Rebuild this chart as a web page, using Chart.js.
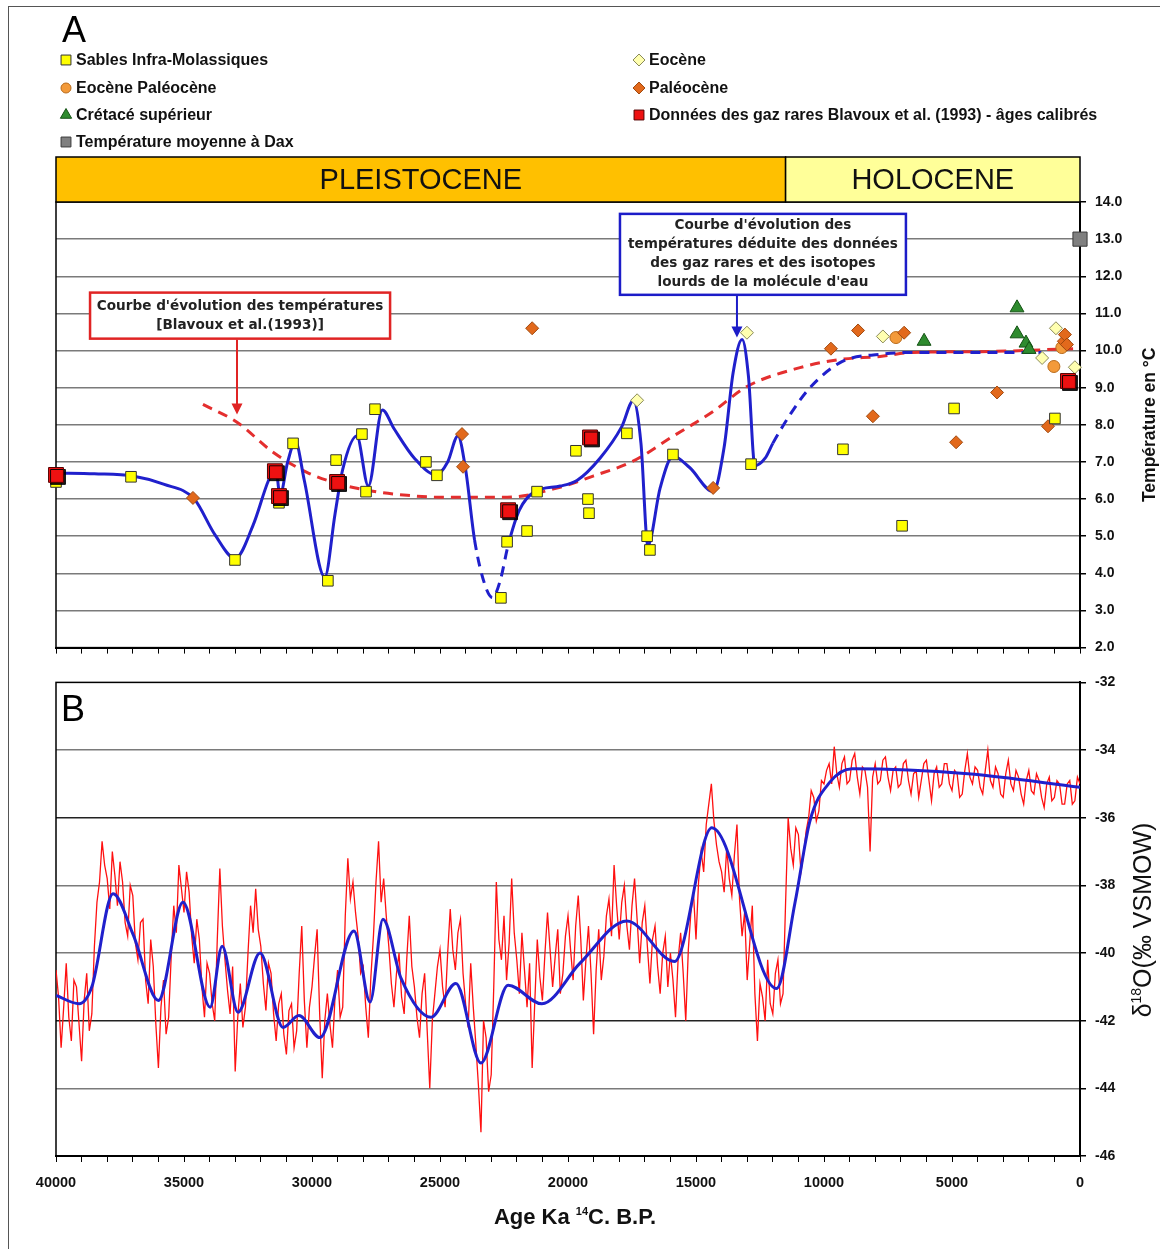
<!DOCTYPE html>
<html>
<head>
<meta charset="utf-8">
<script src="https://cdn.jsdelivr.net/npm/chart.js@4.4.1/dist/chart.umd.min.js"></script>
<style>
html, body { margin: 0; padding: 0; background: #fff; }
#wrap { position: relative; width: 1160px; height: 1249px; overflow: hidden; }
#frame { position: absolute; left: 8px; top: 6px; width: 1160px; height: 1249px; border-left: 1px solid #555; border-top: 1px solid #555; }
canvas { position: absolute; left: 0; }
#chartA { top: 0; width: 1160px; height: 665px; }
#chartB { top: 665px; width: 1160px; height: 584px; }
</style>
</head>
<body>
<div id="wrap">
  <div id="frame"></div>
  <canvas id="chartA" width="1160" height="665"></canvas>
  <canvas id="chartB" width="1160" height="584"></canvas>
</div>
<script>
const SANS = "'Liberation Sans', Arial, sans-serif";
const BOXFONT = "'DejaVu Sans', Verdana, sans-serif";

// ---------- Panel A : temperatures (age in years BP, temperature in degC) ----------
const sablesAge  = [40000, 37070, 33010, 31290, 30740, 29380, 29060, 28050, 27890, 27540, 25550, 25120, 22620, 22380,
                    21600, 21210, 19690, 19220, 19180, 17700, 16910, 16800, 15900, 12850, 9260, 6950, 4920, 980];
const sablesTemp = [6.46, 6.6, 4.36, 5.9, 7.5, 3.8, 7.05, 7.75, 6.2, 8.42, 7.0, 6.64, 3.34, 4.85,
                    5.14, 6.2, 7.3, 6.0, 5.62, 7.77, 5.0, 4.63, 7.2, 6.94, 7.34, 5.28, 8.44, 8.17];

const eoceneAge  = [17300, 13010, 7700, 1480, 940, 200];
const eoceneTemp = [8.66, 10.48, 10.38, 9.8, 10.6, 9.55];

const paleoceneAge  = [34650, 24140, 24100, 21400, 14330, 9730, 8670, 8090, 6870, 4840, 3240, 1250, 630, 590, 510];
const paleoceneTemp = [6.03, 7.75, 6.87, 10.6, 6.3, 10.05, 10.54, 8.23, 10.48, 7.53, 8.87, 7.96, 10.25, 10.43, 10.16];

const eocPalAge  = [7190, 1020, 710];
const eocPalTemp = [10.35, 9.57, 10.08];

const cretaceAge  = [6090, 2460, 2460, 2110, 1990];
const cretaceTemp = [10.25, 11.15, 10.45, 10.2, 10.03];

const gazAge  = [40000, 31450, 31290, 29020, 22340, 19140, 470];
const gazTemp = [6.65, 6.75, 6.08, 6.46, 5.7, 7.66, 9.18];

const daxAge  = [0];
const daxTemp = [13.0];

// temperature curve deduced from noble gases and heavy isotopes
const curveAge  = [40000, 38500, 37000, 35800, 34600, 33800, 33000, 32300, 31700, 31420, 31250, 30950, 30650, 30300,
                   29500, 29100, 28800, 28250, 27800, 27250, 26800, 26000, 25150, 24700, 24300, 24000, 23650, 23250,
                   22950, 22650, 22340, 21900, 21300, 20300, 19650, 18750, 17900, 17450, 17150, 16880, 16400, 15900,
                   15250, 14330, 13900, 13550, 13200, 12950, 12700, 12300, 12000, 11300, 10550, 9300, 7800, 6500, 1500];
const curveTemp = [6.7, 6.68, 6.62, 6.4, 6.0, 5.05, 4.4, 5.3, 6.5, 6.85, 6.1, 7.0, 7.55, 6.5,
                   3.9, 5.6, 6.8, 7.7, 6.35, 8.4, 7.9, 7.1, 6.65, 7.0, 7.7, 6.8, 4.9, 3.7,
                   3.35, 3.8, 4.75, 5.7, 6.2, 6.35, 6.5, 7.1, 7.95, 8.65, 7.5, 4.75, 6.3, 7.15,
                   6.85, 6.2, 7.4, 9.4, 10.3, 9.3, 6.9, 7.1, 7.5, 8.3, 9.0, 9.7, 9.9, 9.95, 9.95];
// parts of the curve that are only inferred (drawn dashed)
const curveDashedRanges = [[23650, 22340], [12000, 0]];

// Blavoux et al. (1993) curve
const blavouxAge  = [34260, 32930, 31520, 30200, 28910, 27620, 26290, 25000, 22380, 20310, 19020, 17460, 15900,
                     14330, 13010, 10940, 9380, 7810, 6520, 3910, 270];
const blavouxTemp = [8.55, 8.07, 7.26, 6.72, 6.4, 6.21, 6.1, 6.05, 6.05, 6.32, 6.62, 7.02, 7.69,
                     8.36, 9.03, 9.54, 9.76, 9.84, 9.95, 9.97, 10.05];

const epochNames  = ['PLEISTOCENE', 'HOLOCENE'];
const epochBounds = [40000, 11500, 0];

const tempTicks = [2, 14];

// ---------- Panel B : delta 18O, one value every 100 years from 40000 to 0 ----------
const redStartAge = 40000;
const redStep = 100;
const redDelta = [
  -40.5, -41.3, -42.8, -41.6, -40.3, -41.9, -42.6, -40.8, -41.0, -42.1, -43.2, -41.4, -40.6, -42.3, -41.8, -39.8, -38.5, -37.9, -36.7, -37.4,
  -37.8, -38.7, -37.0, -37.7, -38.6, -37.3, -37.9, -39.1, -39.5, -38.0, -38.3, -39.7, -40.2, -39.1, -39.0, -40.8, -41.5, -39.6, -40.4, -42.1,
  -43.4, -41.6, -40.8, -42.4, -41.9, -40.1, -38.6, -39.4, -37.4, -38.1, -38.8, -37.6, -38.2, -39.5, -40.3, -39.0, -39.6, -41.0, -41.9, -40.3,
  -40.6, -41.5, -42.0, -39.6, -37.5, -39.2, -40.2, -41.1, -41.8, -40.4, -43.5, -41.9, -40.9, -42.2, -41.6, -40.0, -38.6, -39.4, -38.1, -39.3,
  -39.8, -40.9, -41.7, -40.3, -40.6, -41.8, -42.6, -41.5, -41.2, -42.4, -43.0, -41.7, -41.5, -42.8, -42.3, -40.6, -39.2, -41.4, -42.8, -41.6,
  -41.0, -40.1, -39.3, -41.8, -43.7, -42.0, -41.2, -42.1, -42.8, -41.3, -40.5, -41.9, -41.6, -38.9, -37.2, -38.4, -37.9, -38.8, -39.5, -40.6,
  -40.4, -41.6, -42.5, -40.7, -39.5, -37.9, -36.7, -38.5, -37.8, -38.9, -39.8, -40.9, -41.6, -40.6, -40.0, -41.3, -41.8, -40.2, -38.9, -40.4,
  -41.0, -41.9, -42.5, -41.2, -40.6, -42.3, -44.0, -42.0, -41.2, -40.4, -39.9, -41.0, -41.6, -40.0, -38.7, -39.9, -40.5, -39.4, -39.0, -40.6,
  -41.5, -42.2, -40.3, -41.6, -42.7, -43.9, -45.3, -42.0, -42.5, -44.1, -43.6, -41.0, -37.9, -39.6, -40.2, -38.9, -40.8, -39.7, -37.8, -39.4,
  -40.2, -41.2, -39.4, -40.5, -41.6, -40.3, -43.4, -41.5, -39.6, -40.7, -41.4, -40.0, -38.8, -39.9, -41.0, -40.1, -39.3, -41.2, -40.6, -39.5,
  -38.9, -39.9, -40.8, -39.2, -38.3, -39.6, -41.4, -40.2, -39.2, -40.6, -42.4, -40.5, -39.3, -40.8, -40.1, -38.9, -38.4, -39.5, -37.4, -38.6,
  -39.6, -38.5, -38.0, -39.2, -39.9, -38.6, -37.8, -39.0, -40.3, -39.1, -38.6, -39.8, -40.9, -39.6, -39.2, -40.4, -41.2, -40.0, -39.5, -41.0,
  -40.0, -40.8, -41.9, -40.2, -39.4, -40.6, -42.0, -39.9, -38.8, -38.2, -39.6, -37.9, -37.0, -37.6, -36.2, -35.6, -35.0, -36.1, -36.8, -37.3,
  -37.6, -38.2, -36.9, -37.8, -38.3, -37.1, -36.2, -38.4, -39.5, -38.8, -40.8, -39.7, -38.6, -41.2, -42.6, -40.9, -41.3, -42.0, -40.2, -41.5,
  -41.8, -40.6, -40.2, -41.5, -41.2, -38.5, -36.0, -36.9, -37.4, -36.3, -36.5, -37.6, -37.1, -36.4, -36.0, -35.2, -35.4, -36.1, -35.8, -34.9,
  -35.0, -34.6, -34.4, -35.0, -33.9, -34.7, -35.1, -34.4, -34.2, -35.0, -34.9, -34.3, -34.1, -34.8, -35.3, -34.5, -34.6, -35.1, -37.0, -34.8,
  -34.4, -35.0, -34.9, -34.3, -34.2, -34.8, -35.2, -34.6, -34.5, -35.1, -35.0, -34.4, -34.3, -34.9, -35.3, -34.7, -34.6, -35.4, -34.9, -34.4,
  -34.3, -34.9, -35.5, -34.7, -34.5, -35.1, -35.0, -34.4, -34.4, -35.0, -35.2, -34.6, -34.7, -35.4, -35.3, -34.6, -34.1, -34.8, -35.0, -34.5,
  -34.6, -35.1, -35.3, -34.6, -34.0, -34.9, -35.1, -34.5, -34.7, -35.3, -35.4, -34.7, -34.3, -35.0, -35.2, -34.6, -34.8, -35.3, -35.6, -34.9,
  -34.6, -35.2, -35.3, -34.7, -34.9, -35.4, -35.7, -35.0, -34.8, -35.5, -35.4, -34.9, -35.0, -35.6, -35.6, -35.0, -34.9, -35.6, -35.5, -34.8,
  -35.0
];

const smoothAge   = [40000, 39100, 38600, 37770, 36990, 36000, 35040, 33980, 33510, 32890, 32030, 31130, 30510, 29690,
                     28360, 27730, 27230, 26520, 25350, 24380, 23400, 22340, 21020, 19530, 17700, 15840, 14380, 11850,
                     11130, 10550, 9770, 8900, 4380, 0];
const smoothDelta = [-41.25, -41.5, -41.0, -38.25, -39.45, -41.4, -38.5, -41.6, -39.8, -41.75, -40.0, -42.2, -41.85, -42.5,
                     -39.35, -41.45, -39.0, -40.75, -41.9, -40.9, -43.25, -40.95, -41.5, -40.3, -39.05, -40.25, -36.3, -41.05,
                     -38.5, -36.1, -34.95, -34.55, -34.7, -35.1];

const deltaTicks = [-46, -32];

// ---------- helpers ----------
function pts(ages, vals) {
  return ages.map((a, i) => ({ x: a, y: vals[i] }));
}

function inDashed(a, b) {
  return curveDashedRanges.some(r => a <= r[0] && a >= r[1] && b <= r[0] && b >= r[1]);
}

// draws text made of parts (normal + superscript) centred on cx, baseline at by
function drawParts(ctx, parts, cx, by) {
  let total = 0;
  parts.forEach(p => { ctx.font = p.font; total += ctx.measureText(p.t).width; });
  let x = cx - total / 2;
  ctx.textAlign = 'left';
  ctx.textBaseline = 'alphabetic';
  parts.forEach(p => {
    ctx.font = p.font;
    ctx.fillText(p.t, x, by + (p.dy || 0));
    x += ctx.measureText(p.t).width;
  });
}

function arrowDown(ctx, x, y0, y1, color) {
  ctx.save();
  ctx.strokeStyle = color;
  ctx.fillStyle = color;
  ctx.lineWidth = 2;
  ctx.beginPath();
  ctx.moveTo(x, y0);
  ctx.lineTo(x, y1 - 9);
  ctx.stroke();
  ctx.beginPath();
  ctx.moveTo(x - 5.5, y1 - 11);
  ctx.lineTo(x + 5.5, y1 - 11);
  ctx.lineTo(x, y1);
  ctx.closePath();
  ctx.fill();
  ctx.restore();
}

function noteBox(chart, ageL, ageR, tTop, tBot, lines, color) {
  const ctx = chart.ctx, xs = chart.scales.x, ys = chart.scales.y;
  const x1 = xs.getPixelForValue(ageL), x2 = xs.getPixelForValue(ageR);
  const y1 = ys.getPixelForValue(tTop), y2 = ys.getPixelForValue(tBot);
  ctx.save();
  ctx.fillStyle = '#fff';
  ctx.fillRect(x1, y1, x2 - x1, y2 - y1);
  ctx.strokeStyle = color;
  ctx.lineWidth = 2.5;
  ctx.strokeRect(x1, y1, x2 - x1, y2 - y1);
  ctx.fillStyle = '#222';
  ctx.font = 'bold 13.6px ' + BOXFONT;
  ctx.textAlign = 'center';
  ctx.textBaseline = 'middle';
  const lh = 19;
  const y0 = (y1 + y2) / 2 - (lines.length - 1) * lh / 2;
  lines.forEach((l, i) => ctx.fillText(l, (x1 + x2) / 2, y0 + i * lh));
  ctx.restore();
}

const legendSlots = [
  ['Sables Infra-Molassiques', 0, 0],
  ['Eocène Paléocène', 0, 1],
  ['Crétacé supérieur', 0, 2],
  ['Température moyenne à Dax', 0, 3],
  ['Eocène', 1, 0],
  ['Paléocène', 1, 1],
  ['Données des gaz rares Blavoux et al. (1993) - âges calibrés', 1, 2]
];

// ---------- Panel A plugin ----------
const panelA = {
  id: 'panelA',
  beforeDatasetDraw(chart, args) {
    if (chart.data.datasets[args.index].shadow) {
      const c = chart.ctx;
      c.save();
      c.shadowColor = 'rgba(0,0,0,0.9)';
      c.shadowOffsetX = 2;
      c.shadowOffsetY = 2;
      c.shadowBlur = 0;
    }
  },
  afterDatasetDraw(chart, args) {
    if (chart.data.datasets[args.index].shadow) chart.ctx.restore();
  },
  beforeDatasetsDraw(chart) {
    const { ctx, chartArea: a } = chart;
    ctx.save();
    ctx.strokeStyle = '#000';
    ctx.lineWidth = 1.5;
    ctx.strokeRect(a.left, a.top, a.right - a.left, a.bottom - a.top);
    ctx.restore();
  },
  afterDatasetsDraw(chart) {
    const ctx = chart.ctx, xs = chart.scales.x, ys = chart.scales.y;
    noteBox(chart, 38670, 26950, 11.56, 10.32,
      ["Courbe d'évolution des températures", '[Blavoux et al.(1993)]'], '#e02424');
    arrowDown(ctx, xs.getPixelForValue(32930), ys.getPixelForValue(10.32) + 1, ys.getPixelForValue(8.28), '#e02424');
    noteBox(chart, 17970, 6800, 13.68, 11.5,
      ["Courbe d'évolution des", 'températures déduite des données', 'des gaz rares et des isotopes', "lourds de la molécule d'eau"], '#1c1cc8');
    arrowDown(ctx, xs.getPixelForValue(13400), ys.getPixelForValue(11.5) + 1, ys.getPixelForValue(10.35), '#1c1cc8');
  },
  afterDraw(chart) {
    const { ctx, chartArea: a } = chart;
    const xs = chart.scales.x;
    ctx.save();
    // panel letter
    ctx.fillStyle = '#000';
    ctx.font = '36px ' + SANS;
    ctx.textAlign = 'left';
    ctx.textBaseline = 'alphabetic';
    ctx.fillText('A', 62, 42);

    // legend
    ctx.font = 'bold 16px ' + SANS;
    ctx.textBaseline = 'middle';
    const colX = [66, 639], rowY = [60, 88, 115, 142];
    legendSlots.forEach(([label, col, row]) => {
      const ds = chart.data.datasets.find(d => d.label === label);
      if (!ds) return;
      const x = colX[col], y = rowY[row];
      ctx.fillStyle = ds.backgroundColor;
      ctx.strokeStyle = ds.borderColor;
      ctx.lineWidth = 1;
      Chart.helpers.drawPoint(ctx, { pointStyle: ds.pointStyle, radius: ds.legendRadius, rotation: 0, borderWidth: 1 }, x, y);
      ctx.fillStyle = '#111';
      ctx.fillText(label, x + 10, y + 1);
    });

    // epoch band above the plot
    const bandTop = a.top - 45;
    const fills = ['#ffc000', '#ffff99'];
    for (let i = 0; i < epochNames.length; i++) {
      const x1 = xs.getPixelForValue(epochBounds[i]);
      const x2 = xs.getPixelForValue(epochBounds[i + 1]);
      ctx.fillStyle = fills[i];
      ctx.fillRect(x1, bandTop, x2 - x1, 45);
      ctx.strokeStyle = '#000';
      ctx.lineWidth = 1.5;
      ctx.strokeRect(x1, bandTop, x2 - x1, 45);
      ctx.fillStyle = '#111';
      ctx.font = '29px ' + SANS;
      ctx.textAlign = 'center';
      ctx.textBaseline = 'middle';
      ctx.fillText(epochNames[i], (x1 + x2) / 2, bandTop + 24);
    }

    // right axis title, reading upwards
    ctx.translate(1155, (a.top + a.bottom) / 2);
    ctx.rotate(-Math.PI / 2);
    ctx.fillStyle = '#111';
    drawParts(ctx, [{ t: 'Température en °C', font: 'bold 17.5px ' + SANS }], 0, 0);
    ctx.restore();
  }
};

// ---------- Panel B plugin ----------
const panelB = {
  id: 'panelB',
  beforeDatasetsDraw(chart) {
    const { ctx, chartArea: a } = chart;
    ctx.save();
    ctx.strokeStyle = '#000';
    ctx.lineWidth = 1.5;
    ctx.strokeRect(a.left, a.top, a.right - a.left, a.bottom - a.top);
    ctx.restore();
  },
  afterDraw(chart) {
    const { ctx, chartArea: a } = chart;
    ctx.save();
    ctx.fillStyle = '#000';
    ctx.font = '36px ' + SANS;
    ctx.textAlign = 'left';
    ctx.textBaseline = 'alphabetic';
    ctx.fillText('B', 61, 56);

    ctx.fillStyle = '#111';
    drawParts(ctx, [
      { t: 'Age Ka ', font: 'bold 22px ' + SANS },
      { t: '14', font: 'bold 11px ' + SANS, dy: -9 },
      { t: 'C. B.P.', font: 'bold 22px ' + SANS }
    ], (a.left + a.right) / 2 + 7, 559);

    ctx.translate(1151, 255);
    ctx.rotate(-Math.PI / 2);
    drawParts(ctx, [
      { t: 'δ', font: '25px ' + SANS },
      { t: '18', font: '14px ' + SANS, dy: -10 },
      { t: 'O(‰ VSMOW)', font: '25px ' + SANS }
    ], 0, 0);
    ctx.restore();
  }
};

const tickFont = { family: SANS, weight: 'bold', size: 14 };

// ---------- Chart A ----------
const chartA = new Chart(document.getElementById('chartA'), {
  type: 'scatter',
  data: {
    datasets: [
      {
        label: 'Courbe déduite', data: pts(curveAge, curveTemp), showLine: true, pointRadius: 0,
        borderColor: '#2020cc', borderWidth: 3, cubicInterpolationMode: 'monotone', order: 10,
        segment: { borderDash: c => inDashed(c.p0.parsed.x, c.p1.parsed.x) ? [10, 7] : undefined }
      },
      {
        label: 'Blavoux 1993', data: pts(blavouxAge, blavouxTemp), showLine: true, pointRadius: 0,
        borderColor: '#e42f2f', borderWidth: 3, borderDash: [10, 7], cubicInterpolationMode: 'monotone', order: 11
      },
      {
        label: 'Sables Infra-Molassiques', data: pts(sablesAge, sablesTemp), pointStyle: 'rect', pointRadius: 7.5,
        legendRadius: 7, backgroundColor: '#ffff00', borderColor: '#333', borderWidth: 1, clip: false, order: 2
      },
      {
        label: 'Eocène', data: pts(eoceneAge, eoceneTemp), pointStyle: 'rectRot', pointRadius: 6.5,
        legendRadius: 6, backgroundColor: '#ffffb0', borderColor: '#8a8a5a', borderWidth: 1, clip: false, order: 3
      },
      {
        label: 'Paléocène', data: pts(paleoceneAge, paleoceneTemp), pointStyle: 'rectRot', pointRadius: 6.5,
        legendRadius: 6, backgroundColor: '#e2691c', borderColor: '#a04a10', borderWidth: 1, clip: false, order: 3
      },
      {
        label: 'Eocène Paléocène', data: pts(eocPalAge, eocPalTemp), pointStyle: 'circle', pointRadius: 6,
        legendRadius: 5, backgroundColor: '#f39a3a', borderColor: '#b86a1a', borderWidth: 1, clip: false, order: 3
      },
      {
        label: 'Crétacé supérieur', data: pts(cretaceAge, cretaceTemp), pointStyle: 'triangle', pointRadius: 8,
        legendRadius: 6.5, backgroundColor: '#2e8b2e', borderColor: '#145214', borderWidth: 1, clip: false, order: 3
      },
      {
        label: 'Données des gaz rares Blavoux et al. (1993) - âges calibrés', data: pts(gazAge, gazTemp),
        pointStyle: 'rect', pointRadius: 10.5, legendRadius: 7, backgroundColor: '#ee1111', borderColor: '#550000',
        borderWidth: 1, clip: false, order: 1, shadow: true
      },
      {
        label: 'Température moyenne à Dax', data: pts(daxAge, daxTemp), pointStyle: 'rect', pointRadius: 10,
        legendRadius: 7, backgroundColor: '#808080', borderColor: '#3a3a3a', borderWidth: 1, clip: false, order: 1
      }
    ]
  },
  options: {
    responsive: false,
    animation: false,
    events: [],
    devicePixelRatio: 1,
    layout: { padding: { left: 56, top: 202, right: 0, bottom: 0 } },
    plugins: { legend: { display: false }, tooltip: { enabled: false } },
    scales: {
      x: {
        type: 'linear', reverse: true, min: 0, max: 40000,
        ticks: { display: false, stepSize: 1000 },
        grid: { drawOnChartArea: false, drawTicks: true, tickLength: 6, color: '#000', tickColor: '#000' },
        border: { display: true, color: '#000', width: 2 },
        afterFit: s => { s.height = 16; }
      },
      y: {
        position: 'right', min: tempTicks[0], max: tempTicks[1],
        ticks: { stepSize: 1, callback: v => v.toFixed(1), color: '#111', font: tickFont, padding: 9 },
        grid: {
          color: c => (c.tick && (c.tick.value === tempTicks[0] || c.tick.value === tempTicks[1])) ? 'rgba(0,0,0,0)' : '#7a7a7a',
          lineWidth: 1.5, tickLength: 6, tickColor: '#000', tickWidth: 1.5
        },
        border: { display: true, color: '#000', width: 2 },
        afterFit: s => { s.width = 80; }
      }
    }
  },
  plugins: [panelA]
});

// ---------- Chart B ----------
const chartB = new Chart(document.getElementById('chartB'), {
  type: 'scatter',
  data: {
    datasets: [
      {
        label: 'moyenne', data: pts(smoothAge, smoothDelta), showLine: true, pointRadius: 0,
        borderColor: '#2020cc', borderWidth: 3, cubicInterpolationMode: 'monotone', order: 1
      },
      {
        label: 'delta18O', data: redDelta.map((v, i) => ({ x: redStartAge - i * redStep, y: v })),
        showLine: true, pointRadius: 0, borderColor: '#ff1010', borderWidth: 1.3, tension: 0, order: 2
      }
    ]
  },
  options: {
    responsive: false,
    animation: false,
    events: [],
    devicePixelRatio: 1,
    layout: { padding: { left: 56, top: 15, right: 0, bottom: 0 } },
    plugins: { legend: { display: false }, tooltip: { enabled: false } },
    scales: {
      x: {
        type: 'linear', reverse: true, min: 0, max: 40000,
        ticks: {
          stepSize: 1000, autoSkip: false, maxRotation: 0, minRotation: 0, padding: 12,
          callback: v => (v % 5000 === 0 ? String(v) : ''), color: '#111', font: { family: SANS, weight: 'bold', size: 14.5 }
        },
        grid: { drawOnChartArea: false, drawTicks: true, tickLength: 6, color: '#000', tickColor: '#000' },
        border: { display: true, color: '#000', width: 2 },
        afterFit: s => { s.height = 93; }
      },
      y: {
        position: 'right', min: deltaTicks[0], max: deltaTicks[1],
        ticks: { stepSize: 2, callback: v => String(v), color: '#111', font: tickFont, padding: 9 },
        grid: {
          color: c => {
            const v = c.tick ? c.tick.value : 0;
            if (v === deltaTicks[0] || v === deltaTicks[1]) return 'rgba(0,0,0,0)';
            return (v === -36 || v === -42) ? '#222' : '#7a7a7a';
          },
          lineWidth: 1.5, tickLength: 6, tickColor: '#000', tickWidth: 1.5
        },
        border: { display: true, color: '#000', width: 2 },
        afterFit: s => { s.width = 80; }
      }
    }
  },
  plugins: [panelB]
});
</script>
</body>
</html>
